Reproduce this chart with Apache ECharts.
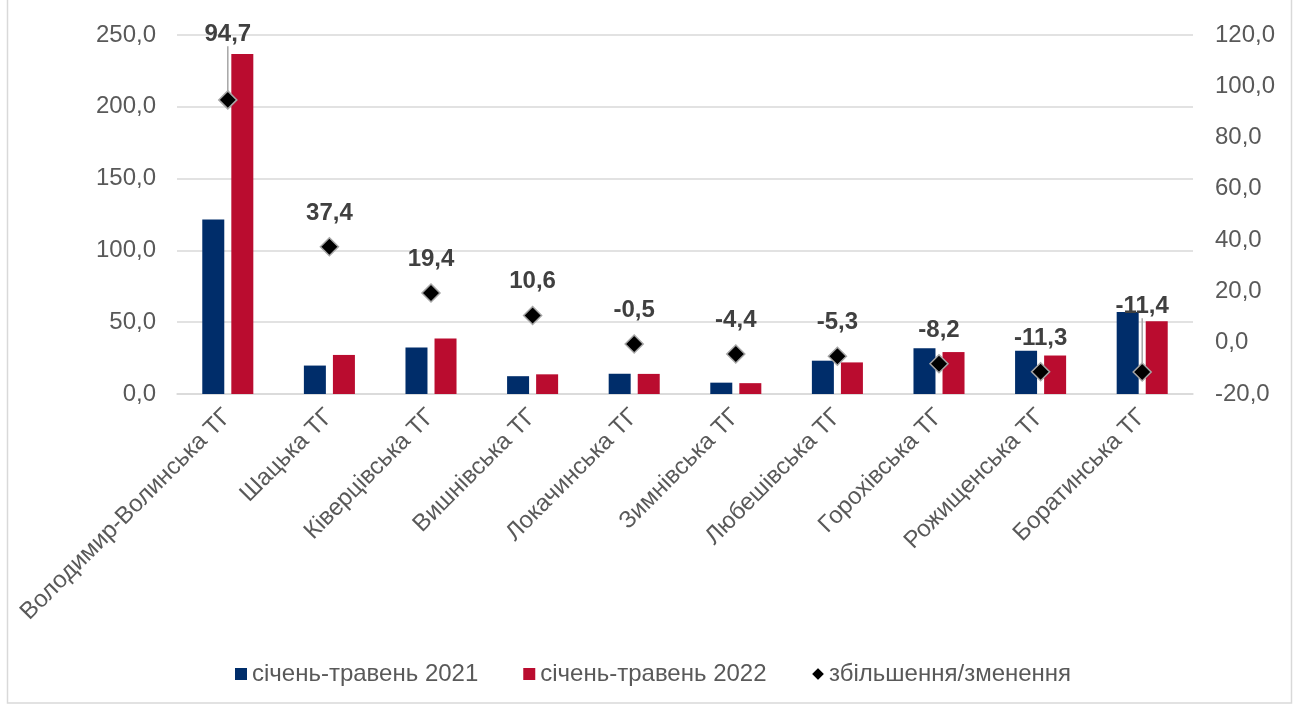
<!DOCTYPE html>
<html><head><meta charset="utf-8">
<script src="https://cdn.jsdelivr.net/npm/echarts@6/dist/echarts.min.js"></script>
<style>html,body{margin:0;padding:0;background:#fff}#c{width:1298px;height:704px}</style>
</head><body><div id="c"></div>
<script>
const categories = ['Володимир-Волинська ТГ','Шацька ТГ','Ківерцівська ТГ','Вишнівська ТГ','Локачинська ТГ','Зимнівська ТГ','Любешівська ТГ','Горохівська ТГ','Рожищенська ТГ','Боратинська ТГ'];
const values2021 = [121.6, 19.8, 32.4, 12.4, 14.1, 7.9, 23.2, 31.8, 30.2, 57.1];
const values2022 = [236.8, 27.2, 38.7, 13.7, 14.0, 7.55, 22.0, 29.2, 26.8, 50.6];
const changePct = [94.7, 37.4, 19.4, 10.6, -0.5, -4.4, -5.3, -8.2, -11.3, -11.4];
const seriesNames = ['січень-травень 2021','січень-травень 2022','збільшення/зменення'];
const leftTicks = {min:0, max:250, interval:50};
const rightTicks = {min:-20, max:120, interval:20};

const FONT = '"Liberation Sans", Arial, sans-serif';
const FS = 24;
const fmt = v => Number(v).toFixed(1).replace('.', ',');
const movedLabels = [0, 9];

const chart = echarts.init(document.getElementById('c'), null, {renderer:'canvas'});
chart.setOption({
  animation:false,
  textStyle:{fontFamily:FONT},
  graphic:[{type:'rect', shape:{x:7.5,y:-2,width:1284,height:705}, style:{fill:'none', stroke:'#D9D9D9', lineWidth:1.5}, silent:true, z:-1}],
  grid:{left:177, right:105, top:35, bottom:310, containLabel:false},
  legend:{
    left:230, top:657, itemWidth:12, itemHeight:12, itemGap:45,
    textStyle:{fontFamily:FONT, fontSize:FS, color:'#595959'},
    data:[
      {name:seriesNames[0], icon:'rect'},
      {name:seriesNames[1], icon:'rect'},
      {name:seriesNames[2], icon:'diamond', itemStyle:{color:'#000', borderColor:'#A6A6A6', borderWidth:1}}
    ]
  },
  xAxis:{
    type:'category', data:categories,
    axisLine:{lineStyle:{color:'#D9D9D9', width:1.5}},
    axisTick:{show:false},
    axisLabel:{rotate:45, margin:19, fontSize:FS, color:'#595959', fontFamily:FONT, interval:0}
  },
  yAxis:[
    {type:'value', min:leftTicks.min, max:leftTicks.max, interval:leftTicks.interval,
     axisLine:{show:false}, axisTick:{show:false},
     splitLine:{lineStyle:{color:'#D9D9D9', width:1.5}},
     axisLabel:{formatter:fmt, fontSize:FS, color:'#595959', margin:21, fontFamily:FONT}},
    {type:'value', min:rightTicks.min, max:rightTicks.max, interval:rightTicks.interval,
     axisLine:{show:false}, axisTick:{show:false}, splitLine:{show:false},
     axisLabel:{formatter:fmt, fontSize:FS, color:'#595959', margin:22, fontFamily:FONT}}
  ],
  series:[
    {name:seriesNames[0], type:'bar', data:values2021, barWidth:22, barGap:'32%',
     itemStyle:{color:'#002D6A'}},
    {name:seriesNames[1], type:'bar', data:values2022, barWidth:22,
     itemStyle:{color:'#BA0C2F'}},
    {name:seriesNames[2], type:'scatter', yAxisIndex:1, symbol:'diamond', symbolSize:18, z:5,
     itemStyle:{color:'#000000', borderColor:'#A6A6A6', borderWidth:1.5, opacity:1},
     data:changePct.map((v,i)=> movedLabels.includes(i) ? {value:v, labelLine:{show:true, lineStyle:{color:'#A6A6A6', width:1.5}}} : v),
     label:{show:true, position:'top', distance:12, formatter:p=>fmt(p.value), fontSize:FS, fontWeight:'bold', color:'#404040', fontFamily:FONT},
     labelLine:{show:false},
     labelLayout:function(p){ return movedLabels.includes(p.dataIndex) ? {dy:-32} : {}; }
    }
  ]
});
</script></body></html>
